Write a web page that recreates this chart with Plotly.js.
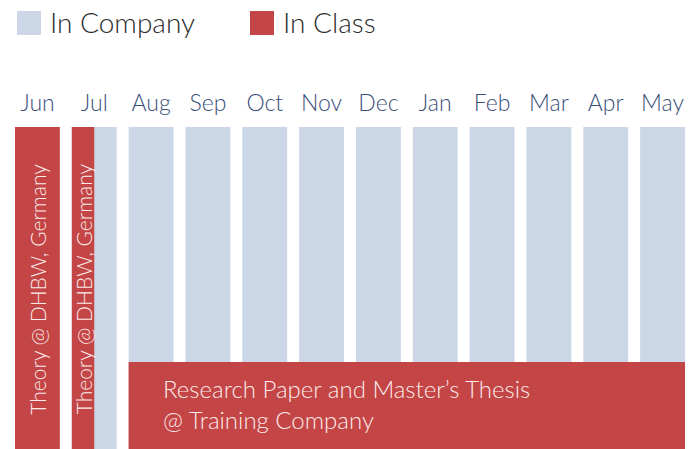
<!DOCTYPE html>
<html><head><meta charset="utf-8">
<script src="https://cdn.plot.ly/plotly-3.0.1.min.js"></script>
<style>html,body{margin:0;padding:0;background:#fff}</style>
</head><body><div id="chart" style="width:699px;height:449px"></div>
<script>
// ---- data ----
const months = ['Jun','Jul','Aug','Sep','Oct','Nov','Dec','Jan','Feb','Mar','Apr','May'];
const companyMonths = ['Jul','Aug','Sep','Oct','Nov','Dec','Jan','Feb','Mar','Apr','May'];
const classFullMonths = ['Jun'];
const classPartialMonths = ['Jul'];
const classPartialShare = [0.5];
const theoryMonths = ['Jun','Jul'];
const theoryLabel = 'Theory @ DHBW, Germany';
const thesisStart = 'Aug';
const thesisEnd = 'May';
const thesisShare = 0.27;
const thesisLabel = 'Research Paper and Master’s Thesis<br>@ Training Company';
const legendLabels = ['In Company', 'In Class'];

// ---- style ----
const COMPANY = '#cbd6e6';
const CLASS = '#c44545';
const FONT = 'Lato, "Source Sans Pro", "Open Sans", sans-serif';
const BW = 0.79;
const W = 699, H = 449, ML = 9, MR = 8, MT = 127, MB = 0;
const PW = W - ML - MR, PH = H - MT - MB;
const px = v => (v - ML) / PW;
const py = v => (H - MB - v) / PH;
const idx = m => months.indexOf(m);

const traces = [
  {type:'bar', x: companyMonths.map(idx), y: companyMonths.map(()=>1), width: BW,
   marker:{color: COMPANY}, hoverinfo:'skip', showlegend:false},
  {type:'bar', x: classFullMonths.map(idx), y: classFullMonths.map(()=>1), width: BW,
   marker:{color: CLASS}, hoverinfo:'skip', showlegend:false},
  {type:'bar', x: classPartialMonths.map(idx), y: classPartialMonths.map(()=>1),
   width: classPartialShare.map(s=>BW*s), offset: classPartialMonths.map(()=>-BW/2),
   marker:{color: CLASS}, hoverinfo:'skip', showlegend:false},
  {type:'bar', x: [(idx(thesisStart)+idx(thesisEnd))/2], y: [thesisShare],
   width: [idx(thesisEnd)-idx(thesisStart)+BW],
   marker:{color: CLASS}, hoverinfo:'skip', showlegend:false}
];

const annotations = [];
theoryMonths.forEach(m => {
  const pi = classPartialMonths.indexOf(m);
  const cx = pi >= 0 ? idx(m) - BW/2 + BW*classPartialShare[pi]/2 : idx(m);
  annotations.push({x: cx, y: 0.1, xref:'x', yref:'y', text: theoryLabel, textangle: -90,
    showarrow:false, xanchor:'center', yanchor:'bottom',
    font:{family: FONT, size: 21, color:'#fbeaea', weight: 300}});
});
annotations.push({x: idx(thesisStart) - BW/2 + 0.565, y: thesisShare/2 + 0.005, xref:'x', yref:'y',
  text: thesisLabel, align:'left', showarrow:false, xanchor:'left', yanchor:'middle',
  font:{family: FONT, size: 24, color:'#fbeaea', weight: 300}});

const legendColors = [COMPANY, CLASS];
const legendX = [17, 250];
const shapes = [];
legendLabels.forEach((lab, i) => {
  shapes.push({type:'rect', xref:'paper', yref:'paper', x0: px(legendX[i]), x1: px(legendX[i]+24),
    y0: py(35), y1: py(11), fillcolor: legendColors[i], line:{width:0}});
  annotations.push({x: px(legendX[i]+31), y: py(22), xref:'paper', yref:'paper', text: lab,
    showarrow:false, xanchor:'left', yanchor:'middle',
    font:{family: FONT, size: 28, color:'#2b2b2b', weight: 300}});
});

const layout = {
  width: W, height: H, margin:{l: ML, r: MR, t: MT, b: MB, pad: 0},
  paper_bgcolor:'#fff', plot_bgcolor:'#fff', barmode:'overlay', showlegend:false,
  xaxis:{range:[-0.5, months.length-0.5], side:'top', tickvals: months.map((m,i)=>i),
    ticktext: months, showgrid:false, zeroline:false, showline:false, ticks:'',
    ticklabelstandoff: 10,
    tickfont:{family: FONT, size: 23, color:'#3a4f7a', weight: 300}, fixedrange:true},
  yaxis:{range:[0,1], visible:false, fixedrange:true},
  shapes, annotations
};
Plotly.newPlot('chart', traces, layout, {displayModeBar:false, staticPlot:true});
</script></body></html>
